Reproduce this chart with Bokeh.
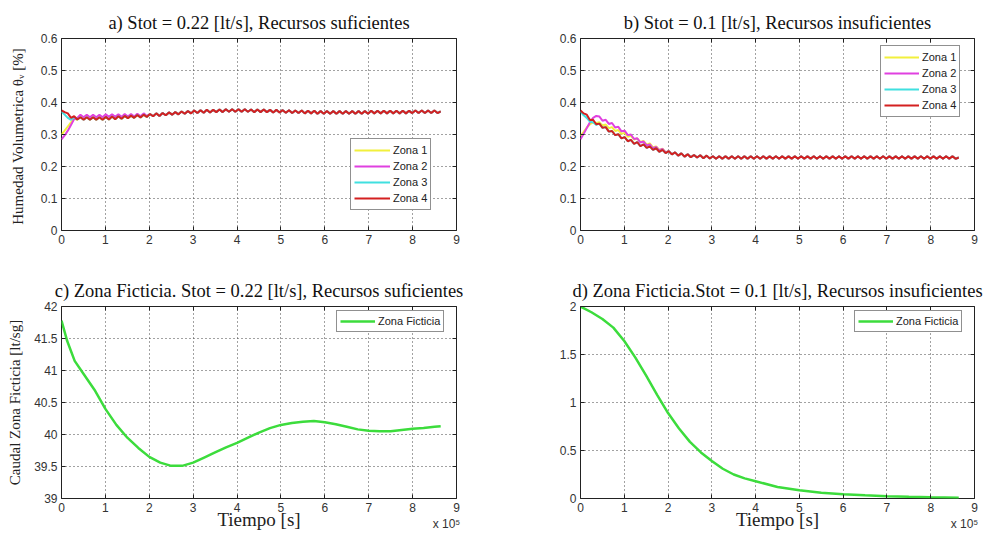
import numpy as np
from bokeh.plotting import figure
from bokeh.models import Range1d, FixedTicker, NumeralTickFormatter, LinearAxis, Title, CustomJSTickFormatter
from bokeh.layouts import column, row
from bokeh.embed import file_html
from bokeh.resources import INLINE

# ---------------- data (time in units of 10^5 s, one sample every 7200 s) ----------------
t_zone = np.round(np.arange(121) * 0.072, 3)

# a) Stot = 0.22 lt/s
z4_a = [0.375, 0.370, 0.366, 0.352, 0.357, 0.347, 0.354, 0.346, 0.354, 0.346,
        0.354, 0.346, 0.354, 0.346, 0.355, 0.347, 0.356, 0.348, 0.357, 0.349,
        0.358, 0.351, 0.359, 0.352, 0.361, 0.353, 0.362, 0.355, 0.364, 0.357,
        0.366, 0.358, 0.367, 0.360, 0.369, 0.362, 0.370, 0.363, 0.372, 0.365,
        0.373, 0.366, 0.375, 0.367, 0.376, 0.368, 0.377, 0.369, 0.377, 0.370,
        0.378, 0.370, 0.379, 0.371, 0.379, 0.371, 0.379, 0.371, 0.379, 0.371,
        0.378, 0.370, 0.378, 0.370, 0.378, 0.370, 0.377, 0.369, 0.377, 0.369,
        0.376, 0.368, 0.376, 0.367, 0.375, 0.367, 0.375, 0.366, 0.374, 0.366,
        0.374, 0.365, 0.373, 0.365, 0.373, 0.365, 0.373, 0.365, 0.373, 0.365,
        0.373, 0.365, 0.373, 0.365, 0.373, 0.365, 0.373, 0.365, 0.374, 0.366,
        0.374, 0.366, 0.374, 0.366, 0.374, 0.366, 0.374, 0.366, 0.374, 0.366,
        0.374, 0.367, 0.375, 0.367, 0.375, 0.367, 0.375, 0.367, 0.375, 0.367,
        0.372]
z1_a = [0.300, 0.312, 0.325, 0.338, 0.350, 0.346, 0.355, 0.347] + z4_a[8:]
z2_a = [0.285, 0.297, 0.312, 0.330, 0.348, 0.352, 0.362, 0.354, 0.362, 0.354,
        0.362, 0.354, 0.362, 0.354, 0.363, 0.355, 0.363, 0.355, 0.363, 0.355,
        0.364, 0.356, 0.364, 0.356, 0.365, 0.357, 0.366, 0.358] + z4_a[28:]
z3_a = [0.372, 0.362, 0.352, 0.346, 0.355, 0.347] + z4_a[6:]

# b) Stot = 0.1 lt/s
z4_b = [0.375, 0.366, 0.362, 0.345, 0.346, 0.332, 0.334, 0.321, 0.323, 0.309,
        0.311, 0.298, 0.301, 0.288, 0.292, 0.279, 0.283, 0.271, 0.276, 0.264,
        0.269, 0.258, 0.263, 0.252, 0.257, 0.246, 0.252, 0.242, 0.248, 0.238,
        0.244, 0.234, 0.241, 0.231, 0.238, 0.229, 0.236, 0.228, 0.235, 0.226,
        0.234, 0.225, 0.232, 0.224, 0.232, 0.224, 0.232, 0.224, 0.232, 0.224,
        0.232, 0.224, 0.232, 0.224, 0.232, 0.224, 0.232, 0.224, 0.232, 0.224,
        0.232, 0.224, 0.232, 0.224, 0.232, 0.224, 0.232, 0.224, 0.232, 0.224,
        0.232, 0.224, 0.232, 0.224, 0.232, 0.224, 0.232, 0.224, 0.232, 0.224,
        0.232, 0.224, 0.232, 0.224, 0.232, 0.224, 0.232, 0.224, 0.232, 0.224,
        0.232, 0.224, 0.232, 0.224, 0.232, 0.224, 0.232, 0.224, 0.232, 0.224,
        0.232, 0.224, 0.232, 0.224, 0.232, 0.224, 0.232, 0.224, 0.232, 0.224,
        0.232, 0.224, 0.232, 0.224, 0.232, 0.224, 0.232, 0.224, 0.232, 0.224,
        0.228]
z1_b = [0.295, 0.308, 0.322, 0.332, 0.338, 0.336, 0.338, 0.328, 0.331, 0.320,
        0.323, 0.311, 0.314, 0.302, 0.305, 0.293, 0.296, 0.284, 0.288, 0.276,
        0.280, 0.268, 0.272, 0.260, 0.263, 0.252, 0.256, 0.244] + z4_b[28:]
z2_b = [0.285, 0.302, 0.320, 0.338, 0.352, 0.358, 0.356, 0.343, 0.346, 0.333,
        0.336, 0.322, 0.324, 0.310, 0.312, 0.298, 0.300, 0.286, 0.288, 0.275,
        0.278, 0.266, 0.269, 0.257, 0.261, 0.250, 0.255, 0.245] + z4_b[28:]
z3_b = [0.372, 0.360, 0.352, 0.340, 0.338, 0.330, 0.334, 0.321] + z4_b[8:]

# c) Zona Ficticia, Stot = 0.22
t_c = [0, 0.13, 0.3, 0.5, 0.75, 1.0, 1.25, 1.5, 1.75, 2.0, 2.25, 2.5, 2.75, 3.0,
       3.25, 3.5, 3.75, 4.0, 4.25, 4.5, 4.75, 5.0, 5.25, 5.5, 5.75, 6.0, 6.25,
       6.5, 6.75, 7.0, 7.25, 7.5, 7.75, 8.0, 8.25, 8.5, 8.64]
q_c = [41.78, 41.46, 41.15, 40.95, 40.70, 40.40, 40.15, 39.95, 39.79, 39.65,
       39.56, 39.51, 39.51, 39.56, 39.64, 39.72, 39.80, 39.87, 39.95, 40.03,
       40.10, 40.15, 40.18, 40.20, 40.21, 40.19, 40.16, 40.12, 40.08, 40.06,
       40.05, 40.05, 40.07, 40.09, 40.10, 40.12, 40.13]

# d) Zona Ficticia, Stot = 0.1
t_d = [0, 0.25, 0.5, 0.75, 1.0, 1.25, 1.5, 1.75, 2.0, 2.25, 2.5, 2.75, 3.0, 3.25,
       3.5, 3.75, 4.0, 4.5, 5.0, 5.5, 6.0, 6.5, 7.0, 7.5, 8.0, 8.64]
q_d = [2.0, 1.94, 1.87, 1.78, 1.64, 1.47, 1.28, 1.08, 0.89, 0.73, 0.59, 0.48,
       0.39, 0.31, 0.25, 0.21, 0.18, 0.12, 0.085, 0.06, 0.045, 0.033, 0.024,
       0.017, 0.012, 0.008]

x_ticks = [0, 1, 2, 3, 4, 5, 6, 7, 8, 9]
y_ticks_ab = [0, 0.1, 0.2, 0.3, 0.4, 0.5, 0.6]
y_ticks_c = [39, 39.5, 40, 40.5, 41, 41.5, 42]
y_ticks_d = [0, 0.5, 1, 1.5, 2]
x_exponent = "x 10⁵"

zone_names = ["Zona 1", "Zona 2", "Zona 3", "Zona 4"]
zone_colors = ["#f2f03c", "#e040e0", "#40e0e0", "#d42020"]
green = "#3cdc3c"

SANS = "Liberation Sans"
SERIF = "Liberation Serif"


def make_fig(yr, yticks, height, borders, title, ylabel=None, xlabel=None,
             ylabel_standoff=12, title_gap=0):
    left, right, top, bottom = borders
    p = figure(width=501, height=height, x_range=Range1d(0, 9), y_range=Range1d(*yr),
               output_backend="svg", toolbar_location=None,
               min_border_left=left, min_border_right=right,
               min_border_top=top, min_border_bottom=bottom)
    p.background_fill_color = "white"
    p.border_fill_color = "white"
    p.outline_line_color = "#222222"
    p.outline_line_width = 1
    top_ax = LinearAxis()
    right_ax = LinearAxis()
    p.add_layout(top_ax, "above")
    p.add_layout(right_ax, "right")
    bottom_ax = p.below[0]
    left_ax = p.left[0]
    bottom_ax.ticker = FixedTicker(ticks=x_ticks)
    top_ax.ticker = FixedTicker(ticks=x_ticks)
    left_ax.ticker = FixedTicker(ticks=yticks)
    right_ax.ticker = FixedTicker(ticks=yticks)
    for ax in [top_ax, right_ax, bottom_ax, left_ax]:
        ax.axis_line_color = None
        ax.major_tick_in = 4
        ax.major_tick_out = 0
        ax.major_tick_line_color = "#222222"
        ax.minor_tick_line_color = None
        ax.major_label_text_font = SANS
        ax.major_label_text_font_size = "12px"
        ax.major_label_text_color = "#333333"
        ax.major_label_standoff = 4
    for ax in [bottom_ax, left_ax]:
        ax.formatter = NumeralTickFormatter(format="0.[0]")
    for ax in [top_ax, right_ax]:
        ax.formatter = CustomJSTickFormatter(code="return ''")
        ax.major_label_standoff = 0
    top_ax.major_label_standoff = title_gap
    if ylabel:
        left_ax.axis_label = ylabel
        left_ax.axis_label_text_font = SERIF
        left_ax.axis_label_text_font_size = "15px"
        left_ax.axis_label_text_font_style = "normal"
        left_ax.axis_label_text_color = "#222222"
        left_ax.axis_label_standoff = ylabel_standoff
    if xlabel:
        # exponent of the time axis shown under the last tick, as in MATLAB
        bottom_ax.formatter = CustomJSTickFormatter(
            args=dict(exp=x_exponent),
            code="return tick == 9 ? '9\\n      ' + exp : String(tick)")
        bottom_ax.major_label_standoff = 2
        bottom_ax.axis_label = xlabel
        bottom_ax.axis_label_text_font = SERIF
        bottom_ax.axis_label_text_font_size = "19px"
        bottom_ax.axis_label_text_font_style = "normal"
        bottom_ax.axis_label_text_color = "#222222"
        bottom_ax.axis_label_standoff = -25
    p.xgrid.ticker = FixedTicker(ticks=x_ticks)
    p.ygrid.ticker = FixedTicker(ticks=yticks)
    for g in [p.xgrid[0], p.ygrid[0]]:
        g.grid_line_color = "#444444"
        g.grid_line_dash = "1 3"
        g.grid_line_width = 1
    p.add_layout(Title(text=title, align="center", text_font=SERIF,
                       text_font_size="18.5px", text_font_style="normal",
                       text_color="#111111", standoff=11), "above")
    return p


def style_legend(p, loc, glyph_w, item_h=16):
    lg = p.legend[0]
    lg.location = loc
    lg.margin = 0
    lg.padding = 3
    lg.spacing = 0
    lg.label_height = item_h
    lg.glyph_height = item_h
    lg.glyph_width = glyph_w
    lg.label_standoff = 3
    lg.label_text_font = SANS
    lg.label_text_font_size = "11px"
    lg.label_text_color = "#222222"
    lg.border_line_color = "#222222"
    lg.border_line_width = 1
    lg.background_fill_color = "white"
    lg.background_fill_alpha = 1


pa = make_fig((0, 0.6), y_ticks_ab, 262, (61, 45, 38, 32),
              "a) Stot = 0.22 [lt/s], Recursos suficientes",
              ylabel="Humedad Volumetrica  θᵥ [%]")
for ys, nm, col in zip([z1_a, z2_a, z3_a, z4_a], zone_names, zone_colors):
    pa.line(t_zone, ys, line_color=col, line_width=2, legend_label=nm)
style_legend(pa, (289, 20), 36)

pb = make_fig((0, 0.6), y_ticks_ab, 262, (79, 28, 38, 32),
              "b) Stot = 0.1 [lt/s], Recursos insuficientes")
for ys, nm, col in zip([z1_b, z2_b, z3_b, z4_b], zone_names, zone_colors):
    pb.line(t_zone, ys, line_color=col, line_width=2, legend_label=nm)
style_legend(pb, (300, 113), 35)

pc = make_fig((39, 42), y_ticks_c, 272, (61, 45, 44, 36),
              "c) Zona Ficticia. Stot = 0.22 [lt/s], Recursos suficientes",
              ylabel="Caudal Zona Ficticia [lt/sg]", xlabel="Tiempo [s]",
              ylabel_standoff=8, title_gap=6)
pc.line(t_c, q_c, line_color=green, line_width=2.5, legend_label="Zona Ficticia")
style_legend(pc, (275, 166), 35, item_h=14)

pd = make_fig((0, 2), y_ticks_d, 272, (79, 28, 44, 36),
              "d) Zona Ficticia.Stot = 0.1 [lt/s], Recursos insuficientes",
              xlabel="Tiempo [s]", title_gap=2)
pd.line(t_d, q_d, line_color=green, line_width=2.5, legend_label="Zona Ficticia")
style_legend(pd, (274, 166), 35, item_h=14)

layout = column(row(pa, pb), row(pc, pd))
open("out.html", "w").write(file_html(layout, INLINE))
